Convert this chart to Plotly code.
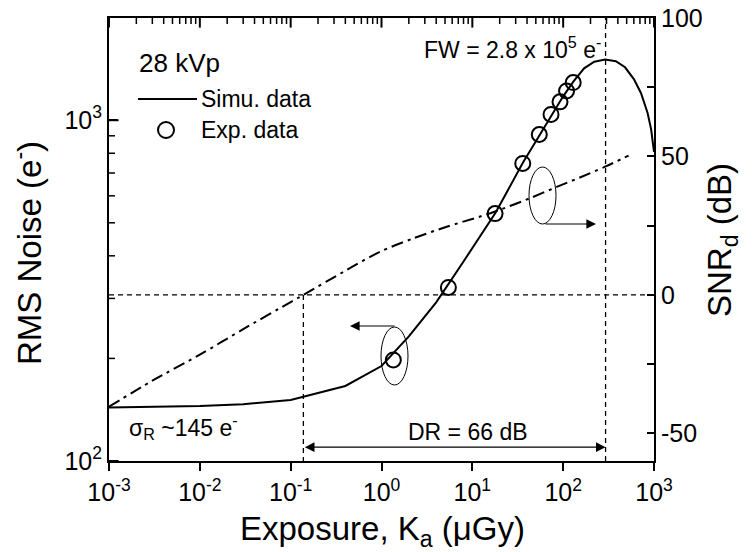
import numpy as np
import plotly.graph_objects as go

# ---- data -------------------------------------------------------------
# Simulated RMS noise (e-) versus exposure (uGy) -> left axis
sim_exposure = [0.001, 0.003, 0.01, 0.03, 0.1, 0.4, 1, 2, 4, 8, 18, 36, 55, 75,
                100, 130, 170, 220, 290, 380, 480, 600, 720, 850, 930, 1000]
sim_noise = [143.6, 144.2, 145, 146.8, 151, 166, 190, 232, 292, 385, 535, 750,
             905, 1040, 1175, 1300, 1420, 1485, 1507, 1490, 1430, 1320, 1200,
             1050, 940, 807]

# Measured RMS noise (e-)
exp_exposure = [1.35, 5.45, 17.8, 35.9, 54.6, 73.5, 92.3, 109, 129]
exp_noise = [198, 323, 532, 747, 908, 1040, 1132, 1219, 1290]

# Detector SNR (dB) versus exposure -> right axis
snr_exposure = [0.001, 0.003, 0.01, 0.03, 0.1, 0.138, 0.414, 0.964, 2.24, 5.22,
                12.2, 17.8, 43, 85, 150, 290, 525]
snr_db = [-40.4, -31.0, -21.6, -12.4, -2.6, 0.0, 9.0, 15.6, 20.4, 24.6,
          28.3, 30.1, 34.9, 39.0, 42.3, 46.3, 50.3]

# Dynamic range limits
dr_low = 0.138    # exposure where SNR_d = 0 dB
dr_high = 293     # exposure at full-well saturation
dr_level = -55    # dB level of the DR arrow

# Axis ranges and ticks
x_range = [1e-3, 1e3]
y_range = [100, 1995]
y2_range = [-60, 100]
x_tickvals = [1e-3, 1e-2, 1e-1, 1e0, 1e1, 1e2, 1e3]
x_ticktext = ["10<sup>-3</sup>", "10<sup>-2</sup>", "10<sup>-1</sup>", "10<sup>0</sup>",
              "10<sup>1</sup>", "10<sup>2</sup>", "10<sup>3</sup>"]
x_minor = [m * 10.0 ** e for e in range(-3, 3) for m in range(2, 10)]
y_tickvals = [100, 1000]
y_ticktext = ["10<sup>2</sup>", "10<sup>3</sup>"]
y_minor = [200, 300, 400, 500, 600, 700, 800, 900]
y2_tickvals = [-50, -25, 0, 25, 50, 75, 100]
y2_ticktext = ["-50", "", "0", "", "50", "", "100"]

# ---- figure -----------------------------------------------------------
FONT = "Arial, 'Liberation Sans', sans-serif"
TICK_SIZE = 25
W, H = 754, 552
ML, MR, MT, MB = 109, 100, 18, 91
PW, PH = W - ML - MR, H - MT - MB
XLOG = np.log10(x_range)
YLOG = np.log10(y_range)


def px(x):
    return (x - ML) / PW


def py(y):
    return (H - MB - y) / PH


def xfrac(v):
    return float((np.log10(v) - XLOG[0]) / (XLOG[1] - XLOG[0]))


def yfrac(v):
    return float((np.log10(v) - YLOG[0]) / (YLOG[1] - YLOG[0]))


def y_off(edge_log, pixels):
    """Log-axis value lying `pixels` away from an edge of the y range."""
    return float(10 ** (edge_log + pixels / PH * (YLOG[1] - YLOG[0])))


def x_off(edge_log, pixels):
    return float(10 ** (edge_log + pixels / PW * (XLOG[1] - XLOG[0])))


fig = go.Figure()

# reference dashed lines (SNR = 0 dB and DR limits)
dash_style = dict(color="black", width=1.3, dash="5px,4px")
fig.add_trace(go.Scatter(x=x_range, y=[0, 0], yaxis="y2", mode="lines",
                         line=dash_style, hoverinfo="skip", showlegend=False))
fig.add_trace(go.Scatter(x=[dr_low, dr_low], y=[0, y2_range[0]], yaxis="y2",
                         mode="lines", line=dash_style, hoverinfo="skip",
                         showlegend=False))
fig.add_trace(go.Scatter(x=[dr_high, dr_high], y=y2_range, yaxis="y2", mode="lines",
                         line=dash_style, hoverinfo="skip", showlegend=False))

# SNR curve (dash-dot)
fig.add_trace(go.Scatter(x=snr_exposure, y=snr_db, yaxis="y2", mode="lines",
                         line=dict(color="black", width=2, dash="12px,5px,3px,5px",
                                   shape="spline", smoothing=0.8),
                         name="SNR_d", showlegend=False))

# simulated noise
fig.add_trace(go.Scatter(x=sim_exposure, y=sim_noise, mode="lines",
                         line=dict(color="black", width=2),
                         name="Simu. data", showlegend=False))

# measured noise
fig.add_trace(go.Scatter(x=exp_exposure, y=exp_noise, mode="markers",
                         marker=dict(symbol="circle-open", size=15, color="black",
                                     line=dict(width=2)),
                         name="Exp. data", showlegend=False))


# tick marks drawn as line markers on the axis scales
def tick_trace(xs, ys, symbol, length, width):
    return go.Scatter(x=xs, y=ys, mode="markers", cliponaxis=False,
                      marker=dict(symbol=symbol, size=length, color="black",
                                  line=dict(color="black", width=width)),
                      hoverinfo="skip", showlegend=False)


MAJ, MIN = 8, 5
# bottom: outward; top: inward
fig.add_trace(tick_trace(x_tickvals, [y_off(YLOG[0], -MAJ / 2)] * len(x_tickvals),
                         "line-ns-open", MAJ, 2))
fig.add_trace(tick_trace(x_minor, [y_off(YLOG[0], -MIN / 2)] * len(x_minor),
                         "line-ns-open", MIN, 1.5))
fig.add_trace(tick_trace(x_tickvals, [y_off(YLOG[1], -MAJ / 2)] * len(x_tickvals),
                         "line-ns-open", MAJ, 2))
fig.add_trace(tick_trace(x_minor, [y_off(YLOG[1], -MIN / 2)] * len(x_minor),
                         "line-ns-open", MIN, 1.5))
# left: inward
fig.add_trace(tick_trace([x_off(XLOG[0], MAJ / 2)] * len(y_tickvals), y_tickvals,
                         "line-ew-open", MAJ, 2))
fig.add_trace(tick_trace([x_off(XLOG[0], MIN / 2)] * len(y_minor), y_minor,
                         "line-ew-open", MIN, 1.5))

axis_style = dict(showline=True, linewidth=2, linecolor="black", automargin=False,
                  showgrid=False, zeroline=False, tickmode="array",
                  tickcolor="black", tickwidth=2,
                  tickfont=dict(family=FONT, size=TICK_SIZE, color="black"))

fig.update_layout(
    width=W, height=H, autosize=False,
    margin=dict(l=ML, r=MR, t=MT, b=MB, autoexpand=False),
    paper_bgcolor="white", plot_bgcolor="white",
    font=dict(family=FONT, size=23, color="black"),
    xaxis=dict(type="log", range=[float(v) for v in XLOG],
               tickvals=x_tickvals, ticktext=x_ticktext, mirror=True,
               ticks="outside", ticklen=8, **axis_style),
    yaxis=dict(type="log", range=[float(v) for v in YLOG],
               tickvals=y_tickvals, ticktext=y_ticktext,
               ticks="inside", ticklen=8, **axis_style),
    yaxis2=dict(range=y2_range, overlaying="y", side="right",
                tickvals=y2_tickvals, ticktext=y2_ticktext,
                ticks="inside", ticklen=7, **axis_style),
)

ann = []
# axis titles
ann.append(dict(text="Exposure, K<sub>a</sub> (\u03bcGy)", x=px(382), y=py(531),
                font=dict(size=33)))
ann.append(dict(text="RMS Noise (e<sup>-</sup>)", x=px(27), y=py(253), textangle=-90,
                font=dict(size=33)))
ann.append(dict(text="SNR<sub>d</sub> (dB)", x=px(722), y=py(240), textangle=-90,
                font=dict(size=33)))
# in-plot text
ann.append(dict(text="28 kVp", x=px(137), y=py(63), xanchor="left", font=dict(size=26)))
ann.append(dict(text="Simu. data", x=px(199), y=py(99), xanchor="left"))
ann.append(dict(text="Exp. data", x=px(199), y=py(130), xanchor="left"))
ann.append(dict(text="FW = 2.8 x 10<sup>5</sup> e<sup>-</sup>", x=px(512), y=py(48)))
ann.append(dict(text="\u03c3<sub>R</sub> ~145 e<sup>-</sup>", x=px(127), y=py(427),
                xanchor="left"))
ann.append(dict(text="DR = 66 dB", x=float(np.log10(8.9)), y=-49.5, xref="x",
                yref="y2"))
for a in ann:
    a.setdefault("xref", "paper")
    a.setdefault("yref", "paper")
    a.setdefault("showarrow", False)
    a.setdefault("xanchor", "center")
    a.setdefault("yanchor", "middle")
    f = dict(family=FONT, size=23, color="black")
    f.update(a.get("font", {}))
    a["font"] = f

# DR double arrow between the two limits
ann.append(dict(x=float(np.log10(dr_high)), y=dr_level, ax=float(np.log10(dr_low)),
                ay=dr_level, xref="x", yref="y2", axref="x", ayref="y2", text="",
                showarrow=True, arrowhead=2, arrowside="end+start", arrowsize=1.6,
                arrowwidth=1.2, arrowcolor="black"))
# arrows from the ellipses pointing to the relevant axis
ann.append(dict(x=px(350), y=py(326), ax=46, ay=0, xref="paper", yref="paper",
                text="", showarrow=True, arrowhead=2, arrowsize=1.6, arrowwidth=1.2,
                arrowcolor="black"))
ann.append(dict(x=px(596), y=py(224), ax=-52, ay=0, xref="paper", yref="paper",
                text="", showarrow=True, arrowhead=2, arrowsize=1.6, arrowwidth=1.2,
                arrowcolor="black"))
fig.update_layout(annotations=ann)


def seg(x0, y0, x1, y1, width):
    return dict(type="line", xref="paper", yref="paper", x0=x0, y0=y0, x1=x1, y1=y1,
                line=dict(color="black", width=width))


shapes = [
    # ellipses around the curves
    dict(type="circle", xref="paper", yref="paper", x0=px(381), x1=px(408),
         y0=py(327), y1=py(385), line=dict(color="black", width=1)),
    dict(type="circle", xref="paper", yref="paper", x0=px(529), x1=px(556),
         y0=py(167), y1=py(224), line=dict(color="black", width=1)),
    # legend line sample
    seg(px(138), py(99), px(197), py(99), 2),
    # legend circle sample
    dict(type="circle", xref="paper", yref="paper", x0=px(158), x1=px(174),
         y0=py(122), y1=py(138), line=dict(color="black", width=2)),
]
fig.update_layout(shapes=shapes)

fig.write_html("out.html")
